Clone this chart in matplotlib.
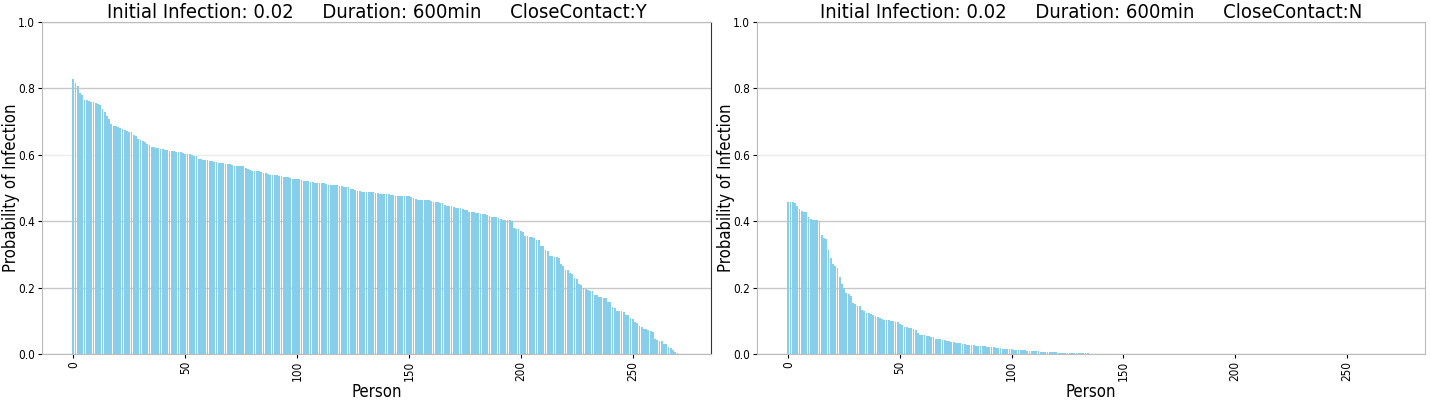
import matplotlib
matplotlib.use("Agg")
import matplotlib.pyplot as plt

plt.rcParams['font.family'] = ['DejaVu Sans']
plt.rcParams['font.stretch'] = 'condensed'

##############################################################################
# data (probability per person, sorted)
##############################################################################

prob_close_y = [
    0.827, 0.817, 0.807, 0.785, 0.781, 0.766, 0.764, 0.761, 0.760, 0.758,
    0.755, 0.752, 0.750, 0.737, 0.728, 0.716, 0.708, 0.692, 0.688, 0.686,
    0.684, 0.682, 0.678, 0.675, 0.671, 0.669, 0.668, 0.661, 0.658, 0.647,
    0.644, 0.641, 0.639, 0.634, 0.631, 0.624, 0.622, 0.621, 0.619, 0.618,
    0.616, 0.614, 0.613, 0.612, 0.611, 0.610, 0.609, 0.608, 0.607, 0.604,
    0.603, 0.602, 0.601, 0.598, 0.597, 0.596, 0.588, 0.586, 0.585, 0.584,
    0.583, 0.582, 0.580, 0.577, 0.577, 0.576, 0.576, 0.575, 0.572, 0.571,
    0.571, 0.570, 0.567, 0.566, 0.566, 0.565, 0.565, 0.560, 0.558, 0.553,
    0.552, 0.551, 0.551, 0.550, 0.549, 0.545, 0.544, 0.543, 0.540, 0.539,
    0.538, 0.538, 0.536, 0.535, 0.534, 0.533, 0.532, 0.529, 0.528, 0.527,
    0.526, 0.526, 0.525, 0.522, 0.521, 0.520, 0.517, 0.517, 0.516, 0.516,
    0.515, 0.515, 0.514, 0.511, 0.510, 0.510, 0.509, 0.509, 0.508, 0.507,
    0.505, 0.504, 0.504, 0.503, 0.498, 0.497, 0.495, 0.490, 0.490, 0.489,
    0.489, 0.488, 0.488, 0.487, 0.487, 0.485, 0.484, 0.482, 0.482, 0.482,
    0.481, 0.481, 0.480, 0.480, 0.477, 0.477, 0.476, 0.476, 0.476, 0.475,
    0.475, 0.474, 0.471, 0.466, 0.465, 0.465, 0.464, 0.464, 0.463, 0.463,
    0.462, 0.458, 0.457, 0.457, 0.456, 0.455, 0.448, 0.447, 0.446, 0.445,
    0.442, 0.441, 0.441, 0.440, 0.438, 0.435, 0.434, 0.428, 0.427, 0.427,
    0.426, 0.425, 0.423, 0.422, 0.421, 0.420, 0.415, 0.414, 0.413, 0.412,
    0.411, 0.406, 0.405, 0.404, 0.404, 0.403, 0.402, 0.380, 0.378, 0.376,
    0.369, 0.367, 0.356, 0.354, 0.353, 0.352, 0.350, 0.344, 0.342, 0.326,
    0.324, 0.312, 0.310, 0.295, 0.294, 0.293, 0.292, 0.290, 0.270, 0.266,
    0.254, 0.252, 0.244, 0.242, 0.229, 0.227, 0.210, 0.207, 0.200, 0.196,
    0.193, 0.191, 0.189, 0.179, 0.177, 0.172, 0.171, 0.170, 0.169, 0.158,
    0.156, 0.142, 0.140, 0.131, 0.130, 0.129, 0.128, 0.118, 0.116, 0.108,
    0.106, 0.095, 0.093, 0.083, 0.081, 0.075, 0.074, 0.073, 0.068, 0.066,
    0.044, 0.041, 0.040, 0.039, 0.031, 0.029, 0.021, 0.019, 0.011, 0.006,
    0.003, 0.000,
]

prob_close_n = [
    0.457, 0.457, 0.457, 0.456, 0.446, 0.437, 0.430, 0.429, 0.427, 0.413,
    0.406, 0.405, 0.404, 0.403, 0.402, 0.358, 0.349, 0.346, 0.313, 0.290,
    0.270, 0.266, 0.258, 0.233, 0.210, 0.198, 0.184, 0.180, 0.175, 0.154,
    0.150, 0.146, 0.144, 0.132, 0.129, 0.124, 0.122, 0.121, 0.116, 0.114,
    0.112, 0.107, 0.104, 0.103, 0.102, 0.101, 0.100, 0.099, 0.097, 0.095,
    0.089, 0.087, 0.081, 0.080, 0.079, 0.078, 0.074, 0.072, 0.064, 0.058,
    0.057, 0.056, 0.054, 0.053, 0.052, 0.051, 0.046, 0.045, 0.044, 0.043,
    0.042, 0.039, 0.038, 0.037, 0.036, 0.034, 0.033, 0.032, 0.031, 0.030,
    0.028, 0.027, 0.027, 0.026, 0.025, 0.024, 0.024, 0.023, 0.023, 0.022,
    0.022, 0.021, 0.020, 0.019, 0.018, 0.017, 0.016, 0.015, 0.015, 0.014,
    0.014, 0.013, 0.013, 0.012, 0.012, 0.011, 0.011, 0.010, 0.010, 0.009,
    0.009, 0.008, 0.008, 0.007, 0.007, 0.006, 0.006, 0.006, 0.005, 0.005,
    0.005, 0.004, 0.004, 0.004, 0.004, 0.003, 0.003, 0.003, 0.003, 0.003,
    0.002, 0.002, 0.002, 0.002, 0.002, 0.001, 0.001, 0.001, 0.001, 0.001,
    0.0, 0.0, 0.0, 0.0, 0.0, 0.0, 0.0, 0.0, 0.0, 0.0,
    0.0, 0.0, 0.0, 0.0, 0.0, 0.0, 0.0, 0.0, 0.0, 0.0,
    0.0, 0.0, 0.0, 0.0, 0.0, 0.0, 0.0, 0.0, 0.0, 0.0,
    0.0, 0.0, 0.0, 0.0, 0.0, 0.0, 0.0, 0.0, 0.0, 0.0,
    0.0, 0.0, 0.0, 0.0, 0.0, 0.0, 0.0, 0.0, 0.0, 0.0,
    0.0, 0.0, 0.0, 0.0, 0.0, 0.0, 0.0, 0.0, 0.0, 0.0,
    0.0, 0.0, 0.0, 0.0, 0.0, 0.0, 0.0, 0.0, 0.0, 0.0,
    0.0, 0.0, 0.0, 0.0, 0.0, 0.0, 0.0, 0.0, 0.0, 0.0,
    0.0, 0.0, 0.0, 0.0, 0.0, 0.0, 0.0, 0.0, 0.0, 0.0,
    0.0, 0.0, 0.0, 0.0, 0.0, 0.0, 0.0, 0.0, 0.0, 0.0,
    0.0, 0.0, 0.0, 0.0, 0.0, 0.0, 0.0, 0.0, 0.0, 0.0,
    0.0, 0.0, 0.0, 0.0, 0.0, 0.0, 0.0, 0.0, 0.0, 0.0,
    0.0, 0.0, 0.0, 0.0, 0.0, 0.0, 0.0, 0.0, 0.0, 0.0,
    0.0, 0.0,
]

titles = [
    "Initial Infection: 0.02     Duration: 600min     CloseContact:Y",
    "Initial Infection: 0.02     Duration: 600min     CloseContact:N",
]

x_ticks = [0, 50, 100, 150, 200, 250]
y_ticks = [0.0, 0.2, 0.4, 0.6, 0.8, 1.0]

##############################################################################

fig = plt.figure(figsize=(14.3, 4), dpi=100)
ax1 = fig.add_axes([0.0294, 0.115, 0.4678, 0.83])
ax2 = fig.add_axes([0.5294, 0.115, 0.4671, 0.83])

for ax, data, title in zip([ax1, ax2], [prob_close_y, prob_close_n], titles):
    ax.bar(range(len(data)), data, color='skyblue', width=0.8, zorder=2)
    ax.set_ylim(0, 1.0)
    ax.set_yticks(y_ticks)
    ax.set_xticks(x_ticks)
    ax.tick_params(axis='x', labelrotation=90, labelsize=8.5, length=3, pad=2)
    ax.tick_params(axis='y', labelsize=8.5, length=3, pad=2)
    ax.grid(axis='y', color='#c8c8c8', linewidth=1, zorder=0)
    # the 0.6 line is much fainter in the original
    ax.get_ygridlines()[3].set_color('#ececec')
    ax.set_xlabel("Person", fontsize=12, labelpad=1)
    ax.set_ylabel("Probability of Infection", fontsize=12)
    ax.yaxis.set_label_coords(-0.033, 0.5)
    ax.set_title(title, fontsize=14.5, pad=3)
    for side in ['top', 'bottom', 'left', 'right']:
        ax.spines[side].set_color('#bbbbbb')

ax1.spines['right'].set_color('#333333')

fig.savefig("out.png", dpi=100)
